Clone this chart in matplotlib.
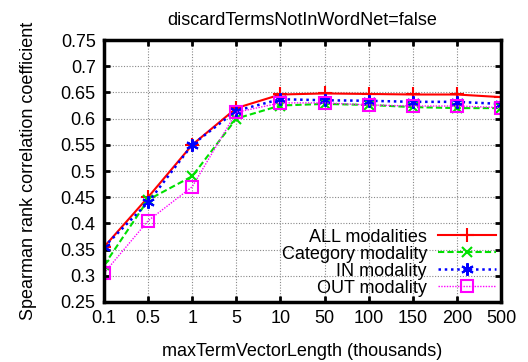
import matplotlib.pyplot as plt
import numpy as np

x_labels = ["0.1", "0.5", "1", "5", "10", "50", "100", "150", "200", "500"]
all_mod = [0.355, 0.450, 0.550, 0.620, 0.646, 0.648, 0.647, 0.646, 0.646, 0.641]
category_mod = [0.320, 0.445, 0.490, 0.600, 0.625, 0.628, 0.626, 0.622, 0.620, 0.620]
in_mod = [0.355, 0.440, 0.550, 0.615, 0.637, 0.635, 0.634, 0.632, 0.632, 0.628]
out_mod = [0.305, 0.405, 0.470, 0.612, 0.630, 0.630, 0.626, 0.624, 0.624, 0.621]

plt.rcParams['font.family'] = ['Liberation Sans', 'DejaVu Sans']

fig = plt.figure(figsize=(5.28, 3.62), dpi=100)
ax = fig.add_axes([104 / 528, 60 / 362, 397 / 528, 262 / 362])
x = np.arange(len(x_labels))

ax.plot(x, all_mod, color='red', linestyle='-', linewidth=1.5, marker='+', markersize=10,
        markeredgewidth=1.5, label='ALL modalities')
ax.plot(x, category_mod, color='#00e000', linestyle=(0, (3, 1.5)), linewidth=1.5, marker='x',
        markersize=7, markeredgewidth=1.5, label='Category modality')
ax.plot(x, in_mod, color='blue', linestyle=(0, (1, 1.5)), linewidth=1.8, marker=(6, 2, 0),
        markersize=9, markeredgewidth=1.5, label='IN modality')
ax.plot(x, out_mod, color='#ff00ff', linestyle=(0, (1, 1)), linewidth=1.0, marker='s',
        markersize=8, markerfacecolor='none', markeredgewidth=1.5, label='OUT modality')

ax.set_xlim(0, len(x_labels) - 1)
ax.set_ylim(0.25, 0.75)
ax.set_xticks(x)
ax.set_xticklabels(x_labels)
ax.set_yticks(np.arange(0.25, 0.751, 0.05))
ax.set_yticklabels(["0.25", "0.3", "0.35", "0.4", "0.45", "0.5", "0.55", "0.6", "0.65", "0.7", "0.75"])
ax.tick_params(direction='in', length=4, width=2, labelsize=13, pad=6, top=True, right=True)
ax.grid(True, color='#888888', linestyle=(0, (1, 1.5)), linewidth=0.8)
for s in ax.spines.values():
    s.set_linewidth(2.5)

ax.set_title('discardTermsNotInWordNet=false', fontsize=13, pad=11)
ax.set_xlabel('maxTermVectorLength (thousands)', fontsize=13, labelpad=11)
ax.set_ylabel('Spearman rank correlation coefficient', fontsize=13, labelpad=17)

ax.legend(loc='lower right', frameon=False, markerfirst=False, fontsize=13, handlelength=3.2,
          labelspacing=0.0, borderaxespad=0.2, handletextpad=0.6, borderpad=0.1)

fig.savefig('out.png', dpi=100)
